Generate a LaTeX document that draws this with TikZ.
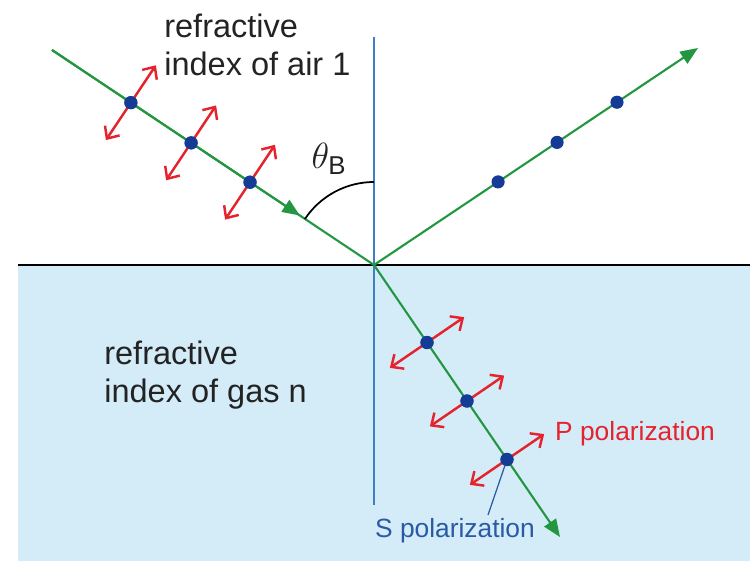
\documentclass[tikz,border=0pt]{standalone}
\usepackage{fontspec}
\setmainfont{Liberation Sans}
\usetikzlibrary{arrows.meta, calc}
\definecolor{raygreen}{RGB}{35,150,65}
\definecolor{dotblue}{RGB}{20,60,150}
\definecolor{polred}{RGB}{228,35,45}
\definecolor{normalblue}{RGB}{60,130,195}
\definecolor{gasblue}{RGB}{212,235,248}
\definecolor{sblue}{RGB}{40,90,165}
\definecolor{textgray}{RGB}{35,35,35}
\begin{document}
\begin{tikzpicture}[x=0.02cm, y=0.02cm,
    ray/.style={raygreen, line width=1.2pt},
    rayhead/.style={-{Triangle[length=10pt, width=8pt]}},
    parrow/.style={polred, line width=1.4pt, {Straight Barb[length=5.5pt, width=10pt]}-{Straight Barb[length=5.5pt, width=10pt]}},
    sdot/.style={circle, fill=dotblue, inner sep=0pt, minimum size=7.5pt},
    bigtext/.style={textgray, align=left, font=\fontsize{18.5}{21.5}\selectfont, inner sep=0pt}]
    \useasboundingbox (0,0) rectangle (750,561);

    % Gas region
    \fill[gasblue] (18,0) rectangle (750,296);
    \draw[black, line width=1.3pt] (18,296) -- (750,296);

    % Normal
    \coordinate (O) at (374,296);
    \coordinate (ntop) at (374,524);
    \coordinate (nbot) at (374,56);
    \draw[normalblue, line width=1.2pt] (ntop) -- (nbot);

    % Rays
    \coordinate (inc) at (52,511);
    \coordinate (R) at (698,513);
    \coordinate (T) at (560,24);
    \draw[ray] (inc) -- (O);
    \draw[ray, rayhead] (inc) -- ($(inc)!0.77!(O)$);
    \draw[ray, rayhead] (O) -- (R);
    \draw[ray, rayhead] (O) -- (T);

    % Brewster angle
    \draw[black, line width=1pt] (374,379) arc[start angle=90, end angle=146.3, radius=83];
    \node[textgray] (theta) at (329,402) {\fontsize{21}{24}\selectfont$\theta_{\mathrm{B}}$};

    % Incident dots and P arrows
    \node[sdot] (i1) at ($(inc)!0.245!(O)$) {};
    \node[sdot] (i2) at ($(inc)!0.432!(O)$) {};
    \node[sdot] (i3) at ($(inc)!0.615!(O)$) {};
    \draw[parrow] ($(i1)!0.9cm!90:(O)$) -- ($(i1)!0.9cm!-90:(O)$);
    \draw[parrow] ($(i2)!0.9cm!90:(O)$) -- ($(i2)!0.9cm!-90:(O)$);
    \draw[parrow] ($(i3)!0.9cm!90:(O)$) -- ($(i3)!0.9cm!-90:(O)$);
    \node[sdot] at (i1) {};
    \node[sdot] at (i2) {};
    \node[sdot] at (i3) {};

    % Reflected dots
    \node[sdot] (f1) at ($(O)!0.383!(R)$) {};
    \node[sdot] (f2) at ($(O)!0.565!(R)$) {};
    \node[sdot] (f3) at ($(O)!0.75!(R)$) {};

    % Refracted dots and P arrows
    \node[sdot] (r1) at ($(O)!0.285!(T)$) {};
    \node[sdot] (r2) at ($(O)!0.5!(T)$) {};
    \node[sdot] (r3) at ($(O)!0.715!(T)$) {};
    \draw[parrow] ($(r1)!0.9cm!90:(T)$) -- ($(r1)!0.9cm!-90:(T)$);
    \draw[parrow] ($(r2)!0.9cm!90:(T)$) -- ($(r2)!0.9cm!-90:(T)$);
    \draw[parrow] ($(r3)!0.9cm!90:(T)$) -- ($(r3)!0.9cm!-90:(T)$);
    \node[sdot] at (r1) {};
    \node[sdot] at (r2) {};
    \node[sdot] at (r3) {};

    % Labels
    \node[bigtext, anchor=north west] (air) at (164,547) {refractive\\index of air 1};
    \node[bigtext, anchor=north west] (gas) at (104,220) {refractive\\index of gas n};
    \node[polred, anchor=west, font=\fontsize{15}{18}\selectfont] (plabel) at (549,127) {P polarization};
    \node[sblue, font=\fontsize{15}{18}\selectfont] (slabel) at (455,30) {S polarization};
    \coordinate (sleader) at (488,46);
    \draw[sblue, line width=0.7pt] (r3) -- (sleader);
\end{tikzpicture}
\end{document}
